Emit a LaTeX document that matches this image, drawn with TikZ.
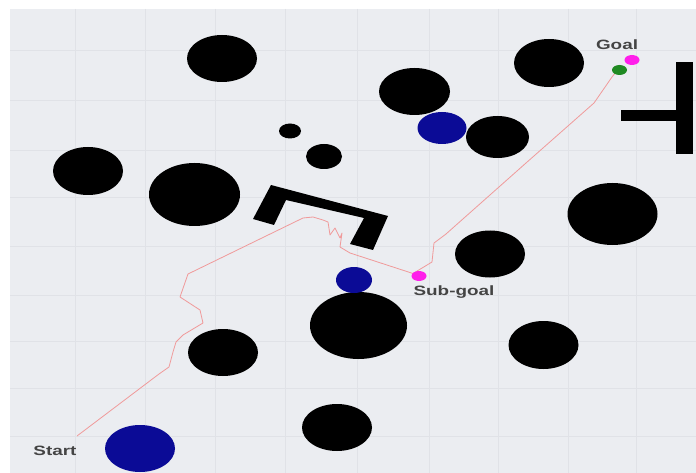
\documentclass[tikz,border=0pt]{standalone}
\usepackage{fontspec}
\setmainfont{Liberation Sans}
\definecolor{bgc}{HTML}{EBEDF1}
\definecolor{gridc}{HTML}{E0E2E7}
\definecolor{robot}{HTML}{0B0B96}
\definecolor{mag}{HTML}{FF1FEA}
\definecolor{grn}{HTML}{1F8A22}
\definecolor{routec}{HTML}{F09A9A}
\definecolor{lblc}{HTML}{444444}
\tikzset{
  obst/.style={fill=black},
  agent/.style={fill=robot},
  gridline/.style={draw=gridc, line width=0.7pt},
  route/.style={draw=routec, line width=0.8pt, line join=round},
  lbl/.style={font=\bfseries\fontsize{13.5}{16}\selectfont, text=lblc, xscale=1.4, inner sep=0pt}
}
\begin{document}
\begin{tikzpicture}[x=1pt,y=-1pt]
\useasboundingbox (0,0) rectangle (696,473);
\fill[white] (0,0) rectangle (696,473);
\fill[bgc] (10,9) rectangle (696,473);
% grid
\foreach \gx in {75,145,215,285,357,429,498,568,636}
  \draw[gridline] (\gx,9) -- (\gx,473);
\foreach \gy in {50,100,150,197,246,295,341,388,436}
  \draw[gridline] (10,\gy) -- (696,\gy);
% obstacles
\fill[obst] (222,58.5) ellipse [x radius=35pt, y radius=23.5pt];
\fill[obst] (290,131) ellipse [x radius=11pt, y radius=7.5pt];
\fill[obst] (324,156.5) ellipse [x radius=18pt, y radius=12.5pt];
\fill[obst] (88,171) ellipse [x radius=35pt, y radius=24pt];
\fill[obst] (194.5,194.5) ellipse [x radius=45.5pt, y radius=31.5pt];
\fill[obst] (414.5,91.5) ellipse [x radius=35.5pt, y radius=23.5pt];
\fill[obst] (497.5,137) ellipse [x radius=31.5pt, y radius=21pt];
\fill[obst] (549,63) ellipse [x radius=35pt, y radius=24pt];
\fill[obst] (612.5,214) ellipse [x radius=45pt, y radius=31pt];
\fill[obst] (490,254) ellipse [x radius=35pt, y radius=23.5pt];
\fill[obst] (543.5,345) ellipse [x radius=35pt, y radius=24pt];
\fill[obst] (358.5,325.5) ellipse [x radius=48.5pt, y radius=33.5pt];
\fill[obst] (337,427.5) ellipse [x radius=35pt, y radius=23.5pt];
\fill[obst] (223,352.5) ellipse [x radius=35pt, y radius=23.5pt];
% U-shaped wall
\fill[obst] (271,185) -- (388,216) -- (373,250) -- (350,244) -- (364,218)
  -- (286,200) -- (274,225) -- (253,219) -- cycle;
% T-shaped wall
\fill[obst] (676,62) rectangle (693,154);
\fill[obst] (621,110) rectangle (677,121);
% agents
\fill[agent] (442,128) ellipse [x radius=24.5pt, y radius=16pt];
\fill[agent] (354,280) ellipse [x radius=18pt, y radius=13pt];
\fill[agent] (140,448.5) ellipse [x radius=35pt, y radius=23.5pt];
% route
\coordinate (s0) at (77,436);
\coordinate (sg) at (413,273.5);
\coordinate (g0) at (616,72);
\draw[route] (s0) -- (159,374) -- (169,367) -- (173,352) -- (176,342) -- (183,335)
  -- (203,323) -- (200,310) -- (180,297) -- (188,274) -- (303,218) -- (313,217)
  -- (323,220) -- (328,222) -- (330,235) -- (335,228) -- (340,238) -- (342,233)
  -- (340,247) -- (350,253) -- (sg);
\draw[route] (sg) -- (432,262) -- (434,243) -- (446,234) -- (526,163) -- (594,103)
  -- (612,77) -- (g0);
% markers
\fill[grn] (619.5,70) ellipse [x radius=7.5pt, y radius=5pt];
\fill[mag] (632,60) ellipse [x radius=7.5pt, y radius=5pt];
\fill[mag] (419,276) ellipse [x radius=7.5pt, y radius=5pt];
% labels
\node[lbl] (goal) at (617,44.5) {Goal};
\node[lbl] (subgoal) at (454,292.5) {Sub-goal};
\node[lbl] (start) at (55,451) {Start};
\end{tikzpicture}
\end{document}
